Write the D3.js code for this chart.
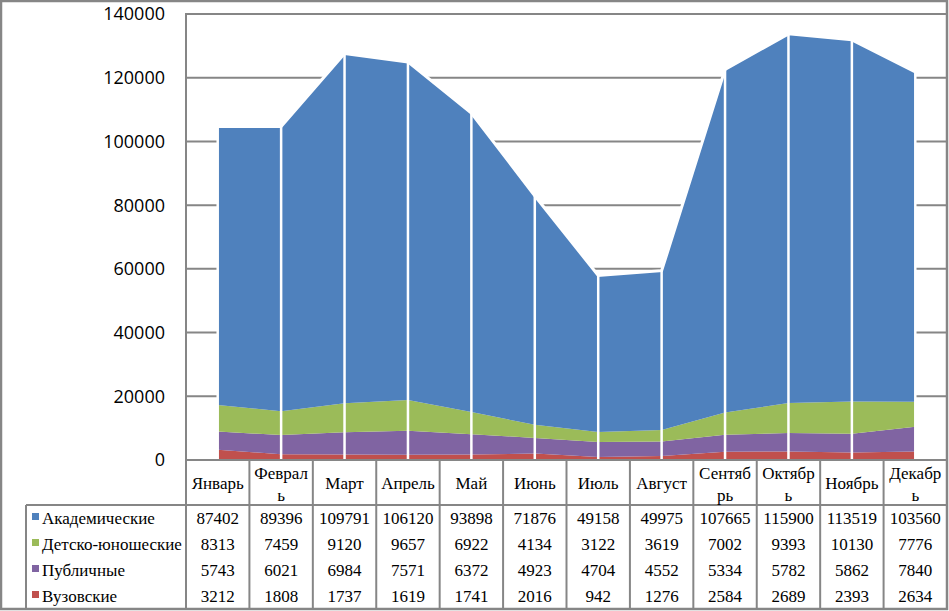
<!DOCTYPE html>
<html>
<head>
<meta charset="utf-8">
<script src="https://cdn.jsdelivr.net/npm/d3@7"></script>
<style>
  html, body { margin: 0; padding: 0; background: #fff; }
  svg { display: block; }
</style>
</head>
<body>
<svg id="chart" width="949" height="611"></svg>
<script>
// месяцы (категории)
var months = ['Январь', 'Февраль', 'Март', 'Апрель', 'Май', 'Июнь', 'Июль', 'Август', 'Сентябрь', 'Октябрь', 'Ноябрь', 'Декабрь'];

// ряды — по строкам таблицы
var academic = [87402, 89396, 109791, 106120, 93898, 71876, 49158, 49975, 107665, 115900, 113519, 103560];
var youth    = [8313, 7459, 9120, 9657, 6922, 4134, 3122, 3619, 7002, 9393, 10130, 7776];
var publicLib = [5743, 6021, 6984, 7571, 6372, 4923, 4704, 4552, 5334, 5782, 5862, 7840];
var univ     = [3212, 1808, 1737, 1619, 1741, 2016, 942, 1276, 2584, 2689, 2393, 2634];

var seriesNames = ['Академические', 'Детско-юношеские', 'Публичные', 'Вузовские'];
var seriesValues = [academic, youth, publicLib, univ];
var seriesColors = ['#4F81BD', '#9BBB59', '#8064A2', '#C0504D'];

var yTicks = [0, 20000, 40000, 60000, 80000, 100000, 120000, 140000];

(function () {
    var GRID = '#868686';
    var plotL = 186, plotR = 947, plotT = 14, plotB = 460;
    var headB = 505, rowH = 26, tableB = headB + rowH * 4;
    var legendL = 26;

    var svg = d3.select('#chart');

    var x = d3.scaleBand().domain(months).range([plotL, plotR]).paddingInner(0).paddingOuter(0);
    var cx = function (m) { return x(m) + x.bandwidth() / 2; };
    var y = d3.scaleLinear().domain([0, 140000]).range([plotB, plotT]);

    // таблица-строки для d3.stack
    var rows = months.map(function (m, i) {
        var r = { month: m };
        seriesNames.forEach(function (s, k) { r[s] = seriesValues[k][i]; });
        return r;
    });
    // снизу вверх: Вузовские, Публичные, Детско-юношеские, Академические
    var stackKeys = seriesNames.slice().reverse();
    var stacked = d3.stack().keys(stackKeys)(rows);
    var colorOf = {};
    seriesNames.forEach(function (s, k) { colorOf[s] = seriesColors[k]; });

    // сетка
    var grid = svg.append('g');
    yTicks.forEach(function (t) {
        if (t === 0) return;
        grid.append('line')
            .attr('x1', plotL).attr('x2', plotR)
            .attr('y1', y(t)).attr('y2', y(t))
            .attr('stroke', GRID).attr('stroke-width', 2);
    });

    // области
    var area = d3.area()
        .x(function (d) { return cx(d.data.month); })
        .y0(function (d) { return y(d[0]); })
        .y1(function (d) { return y(d[1]); });

    svg.append('g').selectAll('path').data(stacked).join('path')
        .attr('d', area)
        .attr('fill', function (d) { return colorOf[d.key]; });

    // белый контур верхней границы
    var top = stacked[stacked.length - 1];
    svg.append('path')
        .attr('d', d3.line()
            .x(function (d) { return cx(d.data.month); })
            .y(function (d) { return y(d[1]); })(top))
        .attr('fill', 'none')
        .attr('stroke', '#fff')
        .attr('stroke-width', 3);

    // белые вертикальные линии в точках
    svg.append('g').selectAll('line').data(top).join('line')
        .attr('x1', function (d) { return cx(d.data.month); })
        .attr('x2', function (d) { return cx(d.data.month); })
        .attr('y1', function (d) { return y(d[1]) - 1; })
        .attr('y2', plotB)
        .attr('stroke', '#fff')
        .attr('stroke-width', 2.5);

    // ось Y
    svg.append('line')
        .attr('x1', plotL).attr('x2', plotL)
        .attr('y1', plotT - 1).attr('y2', plotB)
        .attr('stroke', GRID).attr('stroke-width', 2);

    svg.append('g').selectAll('text').data(yTicks).join('text')
        .attr('x', 165)
        .attr('y', function (d) { return y(d); })
        .attr('dy', '0.36em')
        .attr('text-anchor', 'end')
        .attr('font-family', '"Open Sans", sans-serif')
        .attr('font-size', 18)
        .attr('fill', '#000')
        .text(function (d) { return d; });

    // таблица данных
    var tbl = svg.append('g').attr('stroke', GRID).attr('stroke-width', 2);
    tbl.append('line').attr('x1', plotL).attr('x2', plotR).attr('y1', plotB).attr('y2', plotB);
    tbl.append('line').attr('x1', legendL).attr('x2', plotR).attr('y1', headB).attr('y2', headB);
    tbl.append('line').attr('x1', legendL).attr('x2', plotR).attr('y1', tableB).attr('y2', tableB);
    tbl.append('line').attr('x1', legendL).attr('x2', legendL).attr('y1', headB).attr('y2', tableB);
    months.forEach(function (m) {
        tbl.append('line').attr('x1', x(m)).attr('x2', x(m)).attr('y1', plotB).attr('y2', tableB);
    });
    tbl.append('line').attr('x1', plotR).attr('x2', plotR).attr('y1', plotB).attr('y2', tableB);

    var serif = '"Liberation Serif", "Times New Roman", serif';
    var fs = 17;

    // заголовки месяцев (перенос по буквам, как в Excel)
    var head = svg.append('g')
        .attr('font-family', serif).attr('font-size', fs).attr('fill', '#000')
        .attr('text-anchor', 'middle');
    months.forEach(function (m) {
        var t = head.append('text').attr('x', cx(m)).text(m);
        var maxW = 57;
        if (t.node().getComputedTextLength() <= maxW) {
            t.attr('y', 483).attr('dy', '0.35em');
            return;
        }
        var cut = m.length;
        while (cut > 1) {
            t.text(m.slice(0, cut));
            if (t.node().getComputedTextLength() <= maxW) break;
            cut--;
        }
        t.text(null);
        t.append('tspan').attr('x', cx(m)).attr('y', 473).attr('dy', '0.35em').text(m.slice(0, cut));
        t.append('tspan').attr('x', cx(m)).attr('y', 495).attr('dy', '0.35em').text(m.slice(cut));
    });

    // строки значений + легенда
    var body = svg.append('g')
        .attr('font-family', serif).attr('font-size', fs).attr('fill', '#000');
    seriesNames.forEach(function (s, k) {
        var ry = headB + rowH * k + 13;
        body.append('rect')
            .attr('x', 32).attr('y', ry - 5)
            .attr('width', 7).attr('height', 7)
            .attr('fill', seriesColors[k]);
        body.append('text')
            .attr('x', 42).attr('y', ry).attr('dy', '0.35em')
            .text(s);
        body.append('g').selectAll('text').data(seriesValues[k]).join('text')
            .attr('x', function (d, i) { return cx(months[i]); })
            .attr('y', ry).attr('dy', '0.35em')
            .attr('text-anchor', 'middle')
            .text(function (d) { return d; });
    });

    // рамка диаграммы
    svg.append('rect')
        .attr('x', 1).attr('y', 1)
        .attr('width', 946).attr('height', 608)
        .attr('fill', 'none')
        .attr('stroke', GRID).attr('stroke-width', 2.5);
})();
</script>
</body>
</html>
